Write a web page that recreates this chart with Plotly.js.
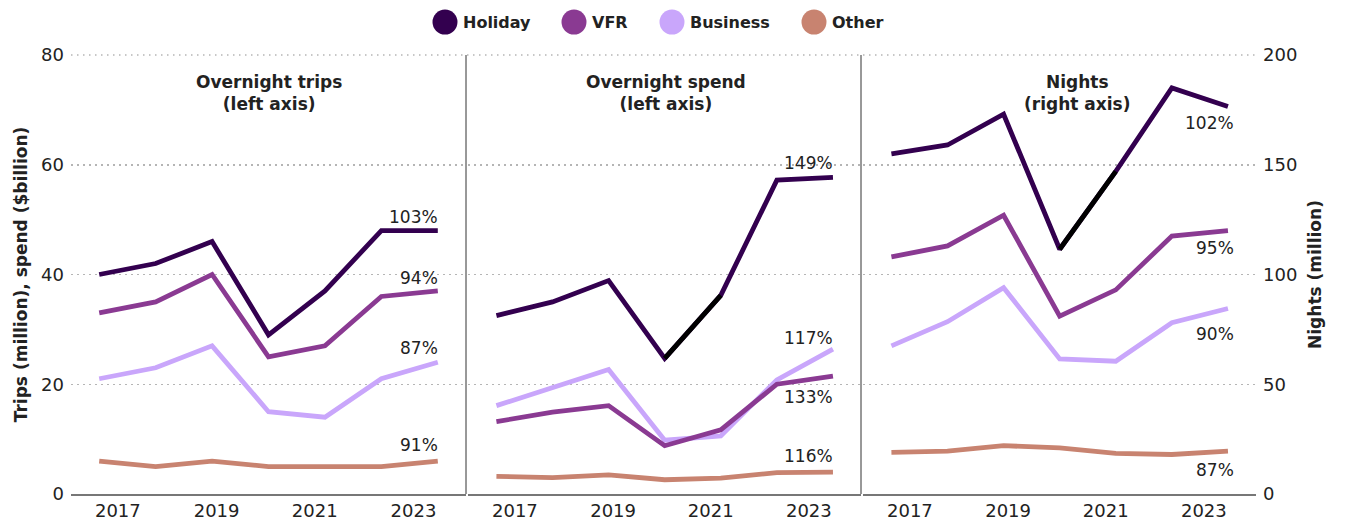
<!DOCTYPE html>
<html>
<head>
<meta charset="utf-8">
<script src="https://cdn.plot.ly/plotly-3.0.1.min.js"></script>
<style>html,body{margin:0;padding:0;background:#fff;}#chart{width:1346px;height:523px;}</style>
</head>
<body>
<div id="chart"></div>
<script>
// ---- data ----
var years = [2017, 2018, 2019, 2020, 2021, 2022, 2023];
var seriesNames = ['Holiday', 'VFR', 'Business', 'Other'];
var seriesColors = ['#33004F', '#8A3A92', '#C9A6FB', '#C88370'];

var tripsHoliday  = [40, 42, 46, 29, 37, 48, 48];
var tripsVFR      = [33, 35, 40, 25, 27, 36, 37];
var tripsBusiness = [21, 23, 27, 15, 14, 21, 24];
var tripsOther    = [6, 5, 6, 5, 5, 5, 6];

var spendHoliday  = [32.5, 35.0, 38.9, 24.7, 36.2, 57.2, 57.7];
var spendVFR      = [13.2, 14.9, 16.1, 8.8, 11.7, 20.0, 21.5];
var spendBusiness = [16.1, 19.4, 22.7, 9.8, 10.6, 20.8, 26.4];
var spendOther    = [3.2, 3.0, 3.5, 2.6, 2.9, 3.9, 4.0];

var nightsHoliday  = [155, 159, 173, 111.5, 147, 185, 176.5];
var nightsVFR      = [108, 113, 127, 81, 93, 117.5, 120];
var nightsBusiness = [67.5, 78.5, 94, 61.5, 60.5, 78, 84.5];
var nightsOther    = [19, 19.5, 22, 21, 18.5, 18, 19.5];

var tripsLabels  = ['103%', '94%', '87%', '91%'];
var spendLabels  = ['149%', '133%', '117%', '116%'];
var nightsLabels = ['102%', '95%', '90%', '87%'];

var panelTitles = ['Overnight trips<br>(left axis)', 'Overnight spend<br>(left axis)', 'Nights<br>(right axis)'];
var xTickText = ['2017', '2019', '2021', '2023'];

// ---- build ----
var panels = [
  {xa: 'x',  ya: 'y',  series: [tripsHoliday, tripsVFR, tripsBusiness, tripsOther], labels: tripsLabels,
   labelShift: [14, 13, 14, 16], xshift: 2, highlight: false},
  {xa: 'x2', ya: 'y',  series: [spendHoliday, spendVFR, spendBusiness, spendOther], labels: spendLabels,
   labelShift: [14, -21, 11, 16], xshift: 2, highlight: true},
  {xa: 'x3', ya: 'y2', series: [nightsHoliday, nightsVFR, nightsBusiness, nightsOther], labels: nightsLabels,
   labelShift: [-16, -17, -25, -19], xshift: 8, highlight: true}
];

var traces = [];
var annotations = [];
var textColor = '#222222';
var fontFam = '"DejaVu Sans", sans-serif';

panels.forEach(function (p) {
  // draw back-to-front: Other, Business, VFR, Holiday
  for (var i = 3; i >= 0; i--) {
    traces.push({
      x: years, y: p.series[i], xaxis: p.xa, yaxis: p.ya,
      type: 'scatter', mode: 'lines', name: seriesNames[i], showlegend: false,
      line: {color: seriesColors[i], width: 4.8}, hoverinfo: 'x+y'
    });
  }
  if (p.highlight) {
    traces.push({
      x: years.slice(3, 5), y: p.series[0].slice(3, 5), xaxis: p.xa, yaxis: p.ya,
      type: 'scatter', mode: 'lines', showlegend: false,
      line: {color: '#000000', width: 4.8}, hoverinfo: 'skip'
    });
  }
  for (var j = 0; j < 4; j++) {
    var last = p.series[j][p.series[j].length - 1];
    annotations.push({
      xref: p.xa, yref: p.ya, x: years[years.length - 1], y: last,
      xanchor: 'right', yanchor: 'middle', xshift: p.xshift, yshift: p.labelShift[j],
      text: p.labels[j], showarrow: false,
      font: {family: fontFam, size: 17, color: textColor}
    });
  }
});

// panel titles
var titleX = [0.167, 0.502, 0.849];
panelTitles.forEach(function (t, k) {
  annotations.push({
    xref: 'paper', yref: 'paper', x: titleX[k], y: 0.913, xanchor: 'center', yanchor: 'middle',
    text: t, showarrow: false, align: 'center',
    font: {family: fontFam, size: 17, color: textColor, weight: 'bold'}
  });
});

// legend (circles + text), built from series arrays
var shapes = [];
var legendCircleX = [445, 574, 672, 814]; // px
var plotL = 71, plotW = 1346 - 71 - 90;
seriesNames.forEach(function (n, k) {
  var px = (legendCircleX[k] - plotL) / plotW;
  shapes.push({
    type: 'circle', xref: 'paper', yref: 'paper', xsizemode: 'pixel', ysizemode: 'pixel',
    xanchor: px, yanchor: 1.075, x0: -12.5, x1: 12.5, y0: -12.5, y1: 12.5,
    fillcolor: seriesColors[k], line: {width: 0}
  });
  annotations.push({
    xref: 'paper', yref: 'paper', x: px, y: 1.075, xanchor: 'left', yanchor: 'middle', xshift: 16,
    text: n, showarrow: false,
    font: {family: fontFam, size: 16, color: textColor, weight: 'bold'}
  });
});

var gridColor = '#b5b5b5';
var gridDash = '1.5px,4.5px';

// top gridline (range edge) and panel dividers
shapes.push({type: 'line', xref: 'paper', yref: 'paper', x0: 0, x1: 1, y0: 1, y1: 1,
  line: {color: gridColor, width: 1.5, dash: gridDash}, layer: 'below'});
[1 / 3, 2 / 3].forEach(function (d) {
  shapes.push({type: 'line', xref: 'paper', yref: 'paper', x0: d, x1: d, y0: 0, y1: 1,
    line: {color: '#333333', width: 1}});
});

var tickPos = [2017.33, 2019.08, 2020.82, 2022.57];
function xaxisDef(dom, anchor) {
  return {
    domain: dom, anchor: anchor, range: [2016.5, 2023.5], tickmode: 'array',
    tickvals: tickPos, ticktext: xTickText, showgrid: false, zeroline: false,
    showline: true, linecolor: '#777777', linewidth: 1.5, ticks: '',
    tickfont: {family: fontFam, size: 18, color: textColor}, fixedrange: true
  };
}

var layout = {
  width: 1346, height: 523,
  margin: {l: 71, r: 90, t: 55, b: 29},
  paper_bgcolor: '#ffffff', plot_bgcolor: 'rgba(0,0,0,0)',
  showlegend: false,
  font: {family: fontFam, color: textColor},
  xaxis: xaxisDef([0, 1 / 3], 'y'),
  xaxis2: xaxisDef([1 / 3 + 0.002, 2 / 3], 'y'),
  xaxis3: xaxisDef([2 / 3 + 0.002, 1], 'y2'),
  yaxis: {
    range: [0, 80], dtick: 20, tick0: 0, showgrid: true, gridcolor: gridColor, griddash: gridDash, gridwidth: 1.5,
    zeroline: false, showline: false, ticks: '', ticklabelstandoff: 6,
    tickfont: {family: fontFam, size: 18, color: textColor},
    title: {text: 'Trips (million), spend ($billion)', standoff: 9,
      font: {family: fontFam, size: 17, color: textColor, weight: 'bold'}},
    fixedrange: true
  },
  yaxis2: {
    anchor: 'x3', side: 'right',
    range: [0, 200], dtick: 50, tick0: 0, showgrid: true, gridcolor: gridColor, griddash: gridDash, gridwidth: 1.5,
    zeroline: false, showline: false, ticks: '', ticklabelstandoff: 6,
    tickfont: {family: fontFam, size: 18, color: textColor},
    title: {text: 'Nights (million)', standoff: 12,
      font: {family: fontFam, size: 17, color: textColor, weight: 'bold'}},
    fixedrange: true
  },
  annotations: annotations,
  shapes: shapes
};

Plotly.newPlot('chart', traces, layout, {displayModeBar: false, staticPlot: true});
</script>
</body>
</html>
